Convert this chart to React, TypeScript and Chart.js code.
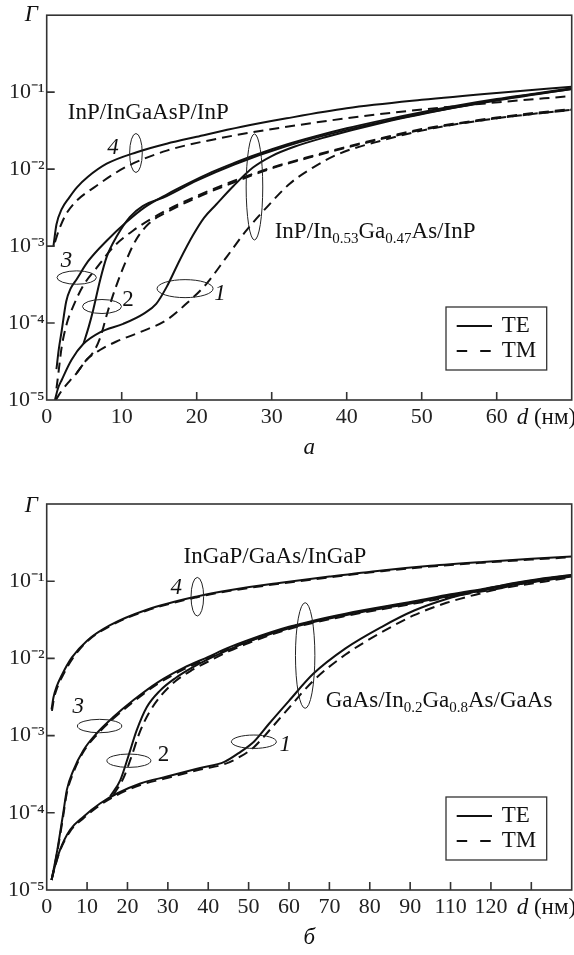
import React, { useEffect, useRef } from "react";
import { Chart, registerables } from "chart.js";

Chart.register(...registerables);

const SERIF = "'Liberation Serif', 'Times New Roman', serif";

// ---------- shared axis ticks ----------
const yTicks = [1e-5, 1e-4, 1e-3, 1e-2, 1e-1];
const yTickLabels = ["10⁻⁵", "10⁻⁴", "10⁻³", "10⁻²", "10⁻¹"];

// ---------- panel а (InP based), d in nm ----------
const aXTicks = [0, 10, 20, 30, 40, 50, 60];
const aXTickLabels = ["0", "10", "20", "30", "40", "50", "60"];

const aTE4_d = [0.9, 1.3, 2, 3, 4, 5.5, 8, 12, 16, 20, 26, 32, 40, 50, 60, 70];
const aTE4_G = [1.0e-3, 1.905e-3, 3.02e-3, 4.266e-3, 5.754e-3, 7.943e-3, 1.175e-2, 1.66e-2, 2.138e-2, 2.63e-2, 3.548e-2, 4.571e-2, 6.166e-2, 7.943e-2, 9.772e-2, 0.1175];
const aTM4_d = [1.1, 1.6, 2.5, 4, 6.6, 9, 11, 16, 23, 32, 44, 57, 70];
const aTM4_G = [1.122e-3, 1.585e-3, 2.512e-3, 3.89e-3, 6.026e-3, 8.71e-3, 1.122e-2, 1.738e-2, 2.512e-2, 3.548e-2, 5.129e-2, 6.918e-2, 8.913e-2];

const aTE3_d = [1.3, 1.6, 2.0, 2.6, 3.2, 4.0, 5.5, 8.0, 10.6, 13, 16, 19, 22, 25, 28, 32, 36, 40, 45, 50, 55, 60, 65, 70];
const aTE3_G = [2.512e-5, 4.467e-5, 7.943e-5, 1.905e-4, 2.818e-4, 3.715e-4, 6.31e-4, 1.175e-3, 2.042e-3, 3.162e-3, 4.677e-3, 6.607e-3, 9.12e-3, 1.202e-2, 1.549e-2, 2.089e-2, 2.692e-2, 3.388e-2, 4.365e-2, 5.495e-2, 6.761e-2, 8.128e-2, 9.55e-2, 0.1122];
const aTE2_d = [4.9, 5.6, 6.2, 7.1, 8.0, 9.3, 11.1, 12.8, 16, 20, 25, 32, 40, 50, 60, 70];
const aTE2_G = [5.37e-5, 8.913e-5, 1.479e-4, 3.548e-4, 7.244e-4, 1.318e-3, 2.399e-3, 3.311e-3, 4.467e-3, 7.079e-3, 1.148e-2, 1.995e-2, 3.236e-2, 5.248e-2, 7.762e-2, 0.1096];
const aTE1_d = [1.1, 1.5, 2.0, 3.3, 4.9, 7.1, 10.2, 12.9, 14.6, 16.0, 17.7, 19.5, 21, 22.6, 24.9, 27.5, 30, 33, 37, 45, 55, 62, 70];
const aTE1_G = [1.0e-5, 1.413e-5, 1.82e-5, 3.311e-5, 5.37e-5, 7.586e-5, 9.772e-5, 1.318e-4, 1.778e-4, 2.951e-4, 6.457e-4, 1.38e-3, 2.344e-3, 3.467e-3, 6.026e-3, 1.047e-2, 1.479e-2, 1.95e-2, 2.57e-2, 4.074e-2, 6.457e-2, 8.511e-2, 0.1096];

const aTM3_d = [1.3, 1.5, 2.0, 2.7, 3.5, 4.9, 6.6, 8.9, 11.5, 15.5, 20, 25, 30, 35, 40, 45, 50, 55, 60, 65, 70];
const aTM3_G = [1.413e-5, 1.995e-5, 4.898e-5, 1.0e-4, 1.622e-4, 3.09e-4, 5.129e-4, 9.772e-4, 1.585e-3, 2.754e-3, 4.467e-3, 7.079e-3, 1.047e-2, 1.445e-2, 1.95e-2, 2.57e-2, 3.311e-2, 3.981e-2, 4.677e-2, 5.37e-2, 6.026e-2];
const aTM2_d = [4.0, 5.3, 6.2, 7.1, 8.2, 9.3, 10.5, 11.9, 13.7, 16, 20, 25, 30, 35, 40, 45, 50, 60, 70];
const aTM2_G = [2.239e-5, 3.311e-5, 4.169e-5, 6.31e-5, 1.479e-4, 3.09e-4, 6.166e-4, 1.202e-3, 1.995e-3, 2.754e-3, 4.266e-3, 6.761e-3, 1.023e-2, 1.413e-2, 1.905e-2, 2.512e-2, 3.236e-2, 4.571e-2, 5.888e-2];
const aTM1_d = [1.2, 2.0, 3.0, 4.0, 5.3, 7.1, 9.3, 12.4, 16, 18.6, 21.3, 24, 26.6, 29.3, 32.4, 35.5, 39, 45, 50, 55, 60, 65, 70];
const aTM1_G = [1.0e-5, 1.318e-5, 1.738e-5, 2.239e-5, 3.311e-5, 4.467e-5, 5.754e-5, 7.586e-5, 1.096e-4, 1.778e-4, 3.236e-4, 7.244e-4, 1.585e-3, 3.162e-3, 6.457e-3, 1.047e-2, 1.585e-2, 2.399e-2, 3.162e-2, 3.89e-2, 4.571e-2, 5.248e-2, 5.888e-2];

// ---------- panel б (GaAs based), d in nm ----------
const bXTicks = [0, 10, 20, 30, 40, 50, 60, 70, 80, 90, 100, 110, 120];
const bXTickLabels = ["0", "10", "20", "30", "40", "50", "60", "70", "80", "90", "110", "120", ""];

const bTE4_d = [1.2, 1.7, 2.5, 3.7, 6.2, 10, 15.7, 24.8, 37, 46, 58, 70, 83, 95, 108, 120, 130];
const bTE4_G = [2.188e-3, 3.162e-3, 4.365e-3, 6.026e-3, 1.023e-2, 1.698e-2, 2.692e-2, 4.266e-2, 6.31e-2, 7.762e-2, 9.55e-2, 0.1148, 0.138, 0.1585, 0.1778, 0.195, 0.2089];
const bTM4_d = [1.3, 1.8, 2.6, 3.8, 6.3, 10, 15.7, 24.8, 37, 46, 58, 70, 83, 95, 108, 120, 130];
const bTM4_G = [2.089e-3, 3.02e-3, 4.169e-3, 5.754e-3, 9.772e-3, 1.66e-2, 2.63e-2, 4.169e-2, 6.166e-2, 7.586e-2, 9.333e-2, 0.1122, 0.1349, 0.1549, 0.1738, 0.1905, 0.2042];

const bTE3_d = [1.2, 2.5, 4.1, 5.0, 6.6, 9.1, 12.4, 16.5, 21.5, 27.5, 34, 40, 45, 50, 60, 74, 91, 100, 108, 118, 130];
const bTE3_G = [1.349e-5, 3.02e-5, 1.0e-4, 1.995e-4, 3.548e-4, 6.457e-4, 1.072e-3, 1.738e-3, 2.884e-3, 4.898e-3, 7.586e-3, 1.047e-2, 1.38e-2, 1.738e-2, 2.57e-2, 3.802e-2, 5.495e-2, 6.761e-2, 7.943e-2, 9.772e-2, 0.1202];
const bTM3_d = [1.2, 2.5, 4.1, 5.0, 6.6, 9.1, 12.4, 16.5, 21.5, 27.5, 34, 40, 45, 50, 60, 74, 91, 100, 108, 118, 130];
const bTM3_G = [1.349e-5, 2.884e-5, 9.12e-5, 1.82e-4, 3.311e-4, 6.166e-4, 1.023e-3, 1.66e-3, 2.754e-3, 4.677e-3, 7.244e-3, 1.0e-2, 1.318e-2, 1.66e-2, 2.455e-2, 3.631e-2, 5.248e-2, 6.457e-2, 7.586e-2, 9.333e-2, 0.1148];

const bTE2_d = [15.7, 18.2, 20.2, 22.3, 24.8, 28, 32, 36, 40, 45, 50, 60, 74, 91, 108, 130];
const bTE2_G = [1.622e-4, 2.63e-4, 5.37e-4, 1.175e-3, 2.344e-3, 3.802e-3, 5.623e-3, 7.586e-3, 9.772e-3, 1.288e-2, 1.66e-2, 2.512e-2, 3.715e-2, 5.37e-2, 7.762e-2, 0.1175];
const bTM2_d = [16.5, 19, 21, 23, 25.5, 28.5, 32, 36, 40, 45, 50, 60, 74, 91, 108, 130];
const bTM2_G = [1.698e-4, 2.818e-4, 5.37e-4, 1.096e-3, 2.042e-3, 3.388e-3, 5.129e-3, 7.079e-3, 9.12e-3, 1.23e-2, 1.585e-2, 2.399e-2, 3.548e-2, 5.129e-2, 7.413e-2, 0.1122];

const bTE1_d = [1.2, 2, 3.3, 5.8, 9.1, 13.2, 17.4, 23.2, 29.8, 38, 44, 48, 51.3, 55, 60, 66, 74, 83, 91, 99, 108, 115, 122, 130];
const bTE1_G = [1.349e-5, 1.995e-5, 3.311e-5, 6.026e-5, 8.913e-5, 1.318e-4, 1.778e-4, 2.399e-4, 2.951e-4, 3.802e-4, 4.571e-4, 6.166e-4, 8.318e-4, 1.413e-3, 2.818e-3, 6.31e-3, 1.349e-2, 2.57e-2, 4.169e-2, 5.888e-2, 7.762e-2, 9.333e-2, 0.1072, 0.1202];
const bTM1_d = [1.2, 2, 3.3, 5.8, 9.1, 13.2, 17.4, 23.2, 29.8, 38, 44, 48, 51.3, 55, 60, 66, 74, 83, 91, 99, 108, 115, 122, 130];
const bTM1_G = [1.349e-5, 1.95e-5, 3.236e-5, 5.754e-5, 8.511e-5, 1.259e-4, 1.698e-4, 2.291e-4, 2.818e-4, 3.631e-4, 4.266e-4, 5.37e-4, 7.079e-4, 1.148e-3, 2.291e-3, 5.129e-3, 1.122e-2, 2.188e-2, 3.631e-2, 5.248e-2, 7.079e-2, 8.71e-2, 0.1023, 0.1175];

// ---------- annotations (anchored in data coordinates) ----------
type Part = [string, number];
const aEllipses = [
  { d: 11.9, g: 0.0162, rx: 6.3, ry: 19.5 },
  { d: 27.7, g: 5.86e-3, rx: 8.3, ry: 53 },
  { d: 4.0, g: 3.9e-4, rx: 19.7, ry: 6.7 },
  { d: 7.37, g: 1.64e-4, rx: 19.5, ry: 7 },
  { d: 18.45, g: 2.8e-4, rx: 28, ry: 9 },
];
const aNumbers = [
  { d: 8.85, g: 0.019, t: "4", it: true },
  { d: 2.64, g: 6.4e-4, t: "3", it: true },
  { d: 10.85, g: 1.97e-4, t: "2", it: false },
  { d: 23.1, g: 2.41e-4, t: "1", it: true },
];
const aTitles: { d: number; g: number; parts: Part[] }[] = [
  { d: 2.81, g: 0.045, parts: [["InP/InGaAsP/InP", 0]] },
  { d: 30.4, g: 1.26e-3, parts: [["InP/In", 0], ["0.53", 1], ["Ga", 0], ["0.47", 1], ["As/InP", 0]] },
];
const bEllipses = [
  { d: 37.3, g: 0.063, rx: 6.3, ry: 19.3 },
  { d: 64.0, g: 0.0109, rx: 9.7, ry: 52.8 },
  { d: 13.1, g: 1.33e-3, rx: 22.2, ry: 6.7 },
  { d: 20.35, g: 4.73e-4, rx: 22, ry: 6.7 },
  { d: 51.3, g: 8.33e-4, rx: 22.5, ry: 6.7 },
];
const bNumbers = [
  { d: 32.1, g: 0.081, t: "4", it: true },
  { d: 7.84, g: 2.37e-3, t: "3", it: true },
  { d: 28.9, g: 5.61e-4, t: "2", it: false },
  { d: 59.1, g: 7.55e-4, t: "1", it: true },
];
const bTitles: { d: number; g: number; parts: Part[] }[] = [
  { d: 33.9, g: 0.1706, parts: [["InGaP/GaAs/InGaP", 0]] },
  { d: 69.1, g: 2.37e-3, parts: [["GaAs/In", 0], ["0.2", 1], ["Ga", 0], ["0.8", 1], ["As/GaAs", 0]] },
];

const pts = (d: number[], g: number[]) => d.map((x, i) => ({ x, y: g[i] }));
const series = (label: string, d: number[], g: number[], dashed: boolean) => ({
  label,
  data: pts(d, g),
  borderColor: "#111",
  borderWidth: dashed ? 2 : 2,
  borderDash: dashed ? [10, 6] : [],
  pointRadius: 0,
  fill: false,
  cubicInterpolationMode: "monotone" as const,
});

function makeDecor(opts: any) {
  return {
    id: "decor",
    afterDatasetsDraw(chart: any) {
      const { ctx, chartArea: ca, scales } = chart;
      const xs = scales.x;
      const ys = scales.y;
      ctx.save();
      // frame
      ctx.setLineDash([]);
      ctx.strokeStyle = "#333";
      ctx.lineWidth = 1.6;
      ctx.strokeRect(ca.left, ca.top, ca.right - ca.left, ca.bottom - ca.top);
      // inward ticks
      ctx.beginPath();
      xs.ticks.forEach((t: any) => {
        const px = xs.getPixelForValue(t.value);
        if (px > ca.left + 1 && px < ca.right - 1) {
          ctx.moveTo(px, ca.bottom);
          ctx.lineTo(px, ca.bottom - 8);
        }
      });
      ys.ticks.forEach((t: any) => {
        const py = ys.getPixelForValue(t.value);
        if (py < ca.bottom - 1 && py > ca.top + 1) {
          ctx.moveTo(ca.left, py);
          ctx.lineTo(ca.left + 8, py);
        }
      });
      ctx.stroke();

      // ellipses
      ctx.lineWidth = 1;
      ctx.strokeStyle = "#222";
      opts.ellipses.forEach((e: any) => {
        const cx = xs.getPixelForValue(e.d);
        const cy = ys.getPixelForValue(e.g);
        ctx.beginPath();
        ctx.ellipse(cx, cy, e.rx, e.ry, 0, 0, Math.PI * 2);
        ctx.stroke();
      });

      ctx.fillStyle = "#111";
      // numbers
      ctx.textAlign = "center";
      ctx.textBaseline = "middle";
      opts.numbers.forEach((n: any) => {
        ctx.font = `${n.it ? "italic " : ""}23px ${SERIF}`;
        ctx.fillText(n.t, xs.getPixelForValue(n.d), ys.getPixelForValue(n.g));
      });

      // titles with subscripts
      ctx.textAlign = "left";
      ctx.textBaseline = "alphabetic";
      opts.titles.forEach((t: any) => {
        let x = xs.getPixelForValue(t.d);
        const y = ys.getPixelForValue(t.g);
        t.parts.forEach(([s, sub]: Part) => {
          ctx.font = sub ? `15px ${SERIF}` : `23px ${SERIF}`;
          ctx.fillText(s, x, sub ? y + 5 : y);
          x += ctx.measureText(s).width;
        });
      });

      // axis titles
      ctx.font = `italic 23px ${SERIF}`;
      ctx.fillText("Γ", ca.left - 22, ca.top + 6 + opts.gOff);
      ctx.font = `italic 23px ${SERIF}`;
      ctx.fillText("d", ca.right - 55, ca.bottom + 24);
      const dw = ctx.measureText("d").width;
      ctx.font = `23px ${SERIF}`;
      ctx.fillText(" (нм)", ca.right - 55 + dw, ca.bottom + 24);

      // panel letter
      ctx.textAlign = "center";
      ctx.font = `italic 23px ${SERIF}`;
      ctx.fillText(opts.letter, (ca.left + ca.right) / 2, ca.bottom + 54);

      // legend box
      const bw = 100.7;
      const bh = 63;
      const bx = ca.right - 125.7;
      const by = ca.bottom - 93;
      ctx.lineWidth = 1.3;
      ctx.strokeStyle = "#333";
      ctx.strokeRect(bx, by, bw, bh);
      ctx.strokeStyle = "#111";
      ctx.lineWidth = 2.2;
      ctx.beginPath();
      ctx.moveTo(bx + 10.7, by + 19);
      ctx.lineTo(bx + 46, by + 19);
      ctx.stroke();
      ctx.setLineDash([10.5, 13]);
      ctx.beginPath();
      ctx.moveTo(bx + 10.7, by + 44);
      ctx.lineTo(bx + 46.3, by + 44);
      ctx.stroke();
      ctx.setLineDash([]);
      ctx.font = `23px ${SERIF}`;
      ctx.textAlign = "left";
      ctx.textBaseline = "middle";
      ctx.fillText("TE", bx + 55.7, by + 19);
      ctx.fillText("TM", bx + 55.7, by + 44);
      ctx.restore();
    },
  };
}

function Panel(props: { height: number; padTop: number; xAxisH: number; xMax: number; xTicks: number[]; xLabels: string[]; datasets: any[]; decor: any }) {
  const ref = useRef<HTMLCanvasElement>(null);
  useEffect(() => {
    const chart = new Chart(ref.current as HTMLCanvasElement, {
      type: "line",
      data: { datasets: props.datasets },
      options: {
        animation: false,
        responsive: false,
        devicePixelRatio: 1,
        layout: { padding: { top: props.padTop, right: 2.3, left: 0, bottom: 0 } },
        plugins: { legend: { display: false }, tooltip: { enabled: false } },
        scales: {
          x: {
            type: "linear",
            min: 0,
            max: props.xMax,
            grid: { display: false, drawTicks: false },
            border: { display: false },
            afterBuildTicks: (s: any) => {
              s.ticks = props.xTicks.map((v) => ({ value: v }));
            },
            afterFit: (s: any) => {
              s.height = props.xAxisH;
            },
            ticks: {
              autoSkip: false,
              maxRotation: 0,
              padding: 4,
              color: "#222",
              font: { family: SERIF, size: 22 },
              callback: (_v: any, i: number) => props.xLabels[i],
            },
          },
          y: {
            type: "logarithmic",
            min: 1e-5,
            max: 1,
            grid: { display: false, drawTicks: false },
            border: { display: false },
            afterBuildTicks: (s: any) => {
              s.ticks = yTicks.map((v) => ({ value: v }));
            },
            afterFit: (s: any) => {
              s.width = 46.7;
            },
            ticks: {
              autoSkip: false,
              padding: 2,
              color: "#222",
              font: { family: SERIF, size: 22 },
              callback: (_v: any, i: number) => yTickLabels[i],
            },
          },
        },
      } as any,
      plugins: [props.decor],
    });
    return () => chart.destroy();
  }, []);
  return <canvas ref={ref} width={574} height={props.height} style={{ display: "block", width: 574, height: props.height }} />;
}

export default function App() {
  const aSets = [
    series("4 TE", aTE4_d, aTE4_G, false),
    series("4 TM", aTM4_d, aTM4_G, true),
    series("3 TE", aTE3_d, aTE3_G, false),
    series("2 TE", aTE2_d, aTE2_G, false),
    series("1 TE", aTE1_d, aTE1_G, false),
    series("3 TM", aTM3_d, aTM3_G, true),
    series("2 TM", aTM2_d, aTM2_G, true),
    series("1 TM", aTM1_d, aTM1_G, true),
  ];
  const bSets = [
    series("4 TM", bTM4_d, bTM4_G, true),
    series("4 TE", bTE4_d, bTE4_G, false),
    series("3 TM", bTM3_d, bTM3_G, true),
    series("3 TE", bTE3_d, bTE3_G, false),
    series("2 TM", bTM2_d, bTM2_G, true),
    series("2 TE", bTE2_d, bTE2_G, false),
    series("1 TM", bTM1_d, bTM1_G, true),
    series("1 TE", bTE1_d, bTE1_G, false),
  ];
  const aDecor = makeDecor({ ellipses: aEllipses, numbers: aNumbers, titles: aTitles, letter: "а", gOff: 0 });
  const bDecor = makeDecor({ ellipses: bEllipses, numbers: bNumbers, titles: bTitles, letter: "б", gOff: 1.5 });
  return (
    <div style={{ position: "absolute", left: 0, top: 0, width: 574, height: 955, background: "#fff" }}>
      <Panel height={477} padTop={14} xAxisH={77} xMax={70} xTicks={aXTicks} xLabels={aXTickLabels} datasets={aSets} decor={aDecor} />
      <Panel height={478} padTop={27} xAxisH={65} xMax={130} xTicks={bXTicks} xLabels={bXTickLabels} datasets={bSets} decor={bDecor} />
    </div>
  );
}
